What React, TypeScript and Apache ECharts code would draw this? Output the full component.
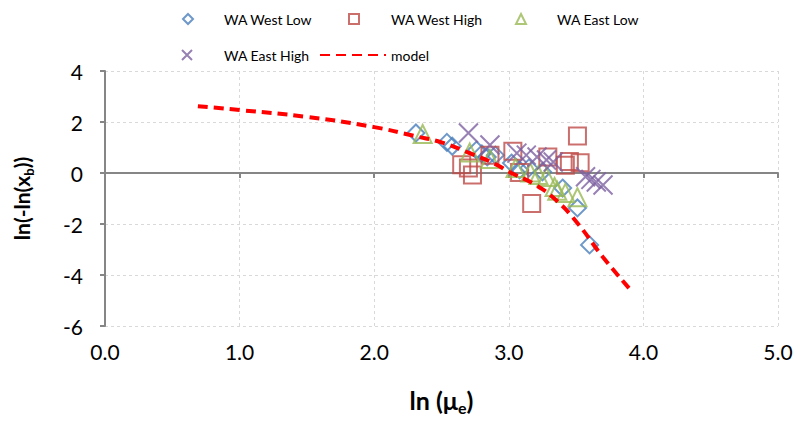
import React, { useEffect, useRef } from 'react';
import * as echarts from 'echarts';

const FONT = 'Lato, "Open Sans", sans-serif';

const seriesNames = ['WA West Low', 'WA West High', 'WA East Low', 'WA East High', 'model'];

const westLow: number[][] = [
  [2.31, 1.57], [2.54, 1.2], [2.58, 1.05], [2.76, 0.9], [2.8, 0.75], [2.84, 0.63],
  [2.9, 0.7], [3.02, 0.39], [3.08, 0.12], [3.15, 0.2], [3.25, 0.05], [3.4, -0.59],
  [3.51, -1.37], [3.6, -2.82],
];
const westHigh: number[][] = [
  [2.65, 0.32], [2.7, 0.2], [2.73, -0.08], [2.86, 0.7], [3.03, 0.85], [3.08, 0.02],
  [3.17, -1.2], [3.29, 0.63], [3.42, 0.3], [3.45, 0.45], [3.53, 0.4], [3.51, 1.45],
];
const eastLow: number[][] = [
  [2.36, 1.53], [2.71, 0.8], [2.86, 0.55], [3.05, 0.2], [3.16, 0.02], [3.22, -0.08],
  [3.28, -0.16], [3.34, -0.55], [3.36, -0.7], [3.42, -0.78], [3.51, -0.95],
];
const eastHigh: number[][] = [
  [2.7, 1.57], [2.86, 1.1], [3.06, 0.78], [3.13, 0.7], [3.21, 0.63], [3.28, 0.51],
  [3.33, 0.43], [3.57, -0.15], [3.61, -0.25], [3.65, -0.35], [3.7, -0.47],
];
const model: number[][] = [
  [0.69, 2.62], [1.0, 2.47], [1.5, 2.2], [2.0, 1.8], [2.3, 1.45], [2.5, 1.2],
  [2.7, 0.8], [2.9, 0.35], [3.0, 0.05], [3.2, -0.47], [3.35, -1.06], [3.5, -1.9],
  [3.7, -3.3], [3.92, -4.68],
];

const xRange = { min: 0, max: 5, interval: 1 };
const yRange = { min: -6, max: 4, interval: 2 };

const colors = ['#4A7EBB', '#BE4B48', '#98B954', '#7D60A0', '#FF0000'];
const symbols = ['diamond', 'rect', 'triangle', 'path://M0,0L10,10M10,0L0,10', 'none'];
const symbolSizes = [17, 17, 18, 19, 0];

const legendPos = [
  { left: 177, top: 7, w: 10, pad: 26 },
  { left: 343, top: 7, w: 10, pad: 27 },
  { left: 510, top: 7, w: 10, pad: 26 },
  { left: 176, top: 43, w: 10, pad: 27 },
  { left: 314, top: 43, w: 66, pad: 0 },
];

const AXIS_GREY = '#868686';
const GRID_GREY = '#D9D9D9';

export default function App() {
  const ref = useRef<HTMLDivElement>(null);
  useEffect(() => {
    if (!ref.current) return;
    const chart = echarts.init(ref.current, null, { renderer: 'svg' });
    const scatterData = [westLow, westHigh, eastLow, eastHigh];
    const series: any[] = scatterData.map((d, i) => ({
      name: seriesNames[i],
      type: 'scatter',
      xAxisIndex: 0,
      data: d,
      symbol: symbols[i],
      symbolSize: symbolSizes[i],
      itemStyle: { color: 'transparent', borderColor: colors[i], borderWidth: 2 },
    }));
    series.push({
      name: seriesNames[4],
      type: 'line',
      xAxisIndex: 0,
      data: model,
      smooth: true,
      symbol: 'none',
      showSymbol: false,
      itemStyle: { color: colors[4] },
      lineStyle: { color: colors[4], width: 4, type: [10, 6] },
      z: 3,
    });
    const richFor = (big: number, small: number) => ({
      n: { fontSize: big, fontWeight: 'bold', fontFamily: FONT, color: '#000', lineHeight: big + 6 },
      s: { fontSize: small, fontWeight: 'bold', fontFamily: FONT, color: '#000', verticalAlign: 'bottom', lineHeight: small },
    });
    chart.setOption({
      animation: false,
      backgroundColor: '#fff',
      textStyle: { fontFamily: FONT },
      legend: seriesNames.map((n, i) => ({
        data: [n],
        left: legendPos[i].left,
        top: legendPos[i].top,
        itemWidth: legendPos[i].w,
        itemHeight: 10,
        textStyle: { fontSize: 14, color: '#000', fontFamily: FONT, padding: [0, 0, 0, legendPos[i].pad] },
        itemStyle:
          i === 4
            ? { opacity: 0 }
            : { color: 'transparent', borderColor: colors[i], borderWidth: 2 },
        selectedMode: false,
      })),
      grid: { left: 105, right: 18, top: 71, bottom: 95, containLabel: false },
      xAxis: [
        {
          type: 'value',
          ...xRange,
          position: 'bottom',
          axisLine: { show: false, onZero: false },
          axisTick: { show: false },
          axisLabel: { fontSize: 21, color: '#000', margin: 15, fontFamily: FONT, formatter: (v: number) => v.toFixed(1) },
          splitLine: { show: true, lineStyle: { color: GRID_GREY, type: [3, 3], width: 1 } },
          name: '{n|ln (μ}{s|e}{n|)}',
          nameLocation: 'middle',
          nameGap: 58,
          nameTextStyle: { rich: richFor(25, 16) },
        },
        {
          type: 'value',
          ...xRange,
          position: 'top',
          axisLine: { show: true, onZero: true, lineStyle: { color: AXIS_GREY, width: 2 } },
          axisTick: { show: true, inside: true, length: 5, lineStyle: { color: AXIS_GREY, width: 2 } },
          axisLabel: { show: false },
          splitLine: { show: false },
        },
      ],
      yAxis: {
        type: 'value',
        ...yRange,
        axisLine: { show: true, onZero: false, lineStyle: { color: AXIS_GREY, width: 2 } },
        axisTick: { show: true, length: 5, lineStyle: { color: AXIS_GREY, width: 2 } },
        axisLabel: { fontSize: 21, color: '#000', margin: 22, fontFamily: FONT },
        splitLine: { show: true, lineStyle: { color: GRID_GREY, type: [3, 3], width: 1 } },
        name: '{n|ln(-ln(x}{s|b}{n|))}',
        nameLocation: 'middle',
        nameGap: 70,
        nameRotate: 90,
        nameTextStyle: { rich: richFor(21, 13) },
      },
      series,
    });
    return () => chart.dispose();
  }, []);
  return <div ref={ref} style={{ width: 796, height: 421, position: 'absolute', left: 0, top: 0 }} />;
}
